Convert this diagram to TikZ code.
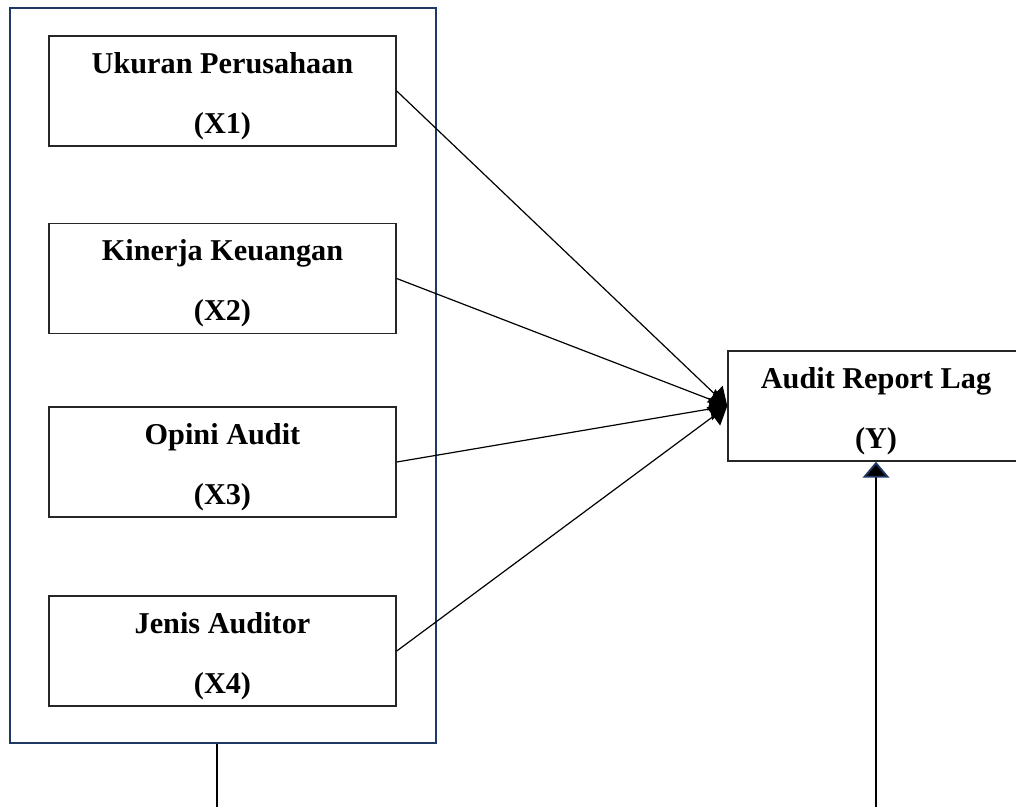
\documentclass[tikz,border=0pt]{standalone}
\usepackage{fontspec}
\setmainfont{Liberation Serif}
\usetikzlibrary{arrows.meta}
\definecolor{navy}{HTML}{1F3864}
\tikzset{
  varbox/.style={draw=black!85, line width=1.1pt, minimum width=347*0.75pt, minimum height=110*0.75pt, inner sep=0pt},
  boxtext/.style={font=\fontsize{22.7}{45}\selectfont\bfseries, align=center},
  outerbox/.style={draw=navy, line width=2pt, minimum width=426*0.75pt, minimum height=735*0.75pt, inner sep=0pt},
  conn/.style={line width=0.9pt, -{Triangle[length=13pt,width=17pt]}},
}
\begin{document}
\begin{tikzpicture}[x=0.75pt,y=-0.75pt]
\useasboundingbox (0,0) rectangle (1016,807);
\clip (0,0) rectangle (1016,807);
\node[outerbox] (outer) at (223,375.5) {};
\node[varbox] (x1) at (222.5,91) {};
\node[varbox] (x2) at (222.5,278.5) {};
\node[varbox] (x3) at (222.5,462) {};
\node[varbox] (x4) at (222.5,651) {};
\node[varbox, minimum width=296*0.75pt] (y) at (876,406) {};
\node[boxtext] (t1) at (222.5,96) {Ukuran Perusahaan\\(X1)};
\node[boxtext] (t2) at (222.5,283.5) {Kinerja Keuangan\\(X2)};
\node[boxtext] (t3) at (222.5,467) {Opini Audit\\(X3)};
\node[boxtext] (t4) at (222.5,656) {Jenis Auditor\\(X4)};
\node[boxtext] (ty) at (876,411) {Audit Report Lag\\(Y)};
\draw[conn] (x1.east) -- (y.west);
\draw[conn] (x2.east) -- (y.west);
\draw[conn] (x3.east) -- (y.west);
\draw[conn] (x4.east) -- (y.west);
\coordinate (b1) at (217,807);
\coordinate (b2) at (876,807);
\draw[line width=0.9pt] (outer.south -| b1) -- (b1);
\draw[line width=0.9pt, -{Triangle[length=12pt,width=20pt,fill=black,color=navy,line width=1.4pt]}] (b2) -- (y.south);
\end{tikzpicture}
\end{document}
